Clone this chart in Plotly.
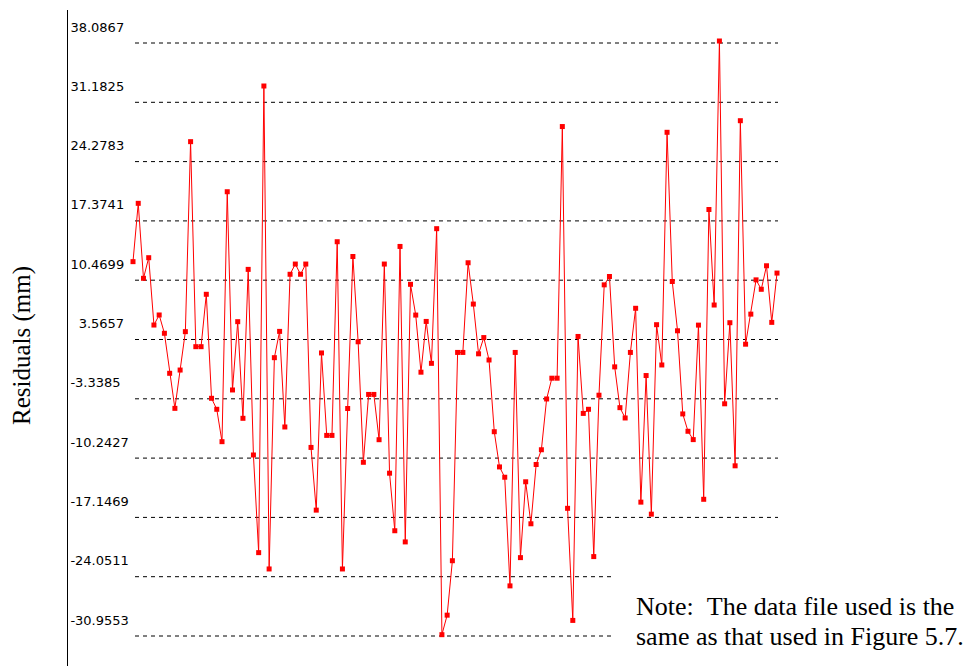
import plotly.graph_objects as go

# residual values (mm), in sample order
residuals = [
    12.63, 19.42, 10.69, 13.09, 5.25, 6.42, 4.29, -0.37, -4.45, 0.01,
    4.48, 26.6, 2.73, 2.73, 8.83, -3.28, -4.56, -8.33, 20.77, -2.31,
    5.64, -5.61, 11.73, -9.88, -21.25, 33.08,
    -23.15, 1.45, 4.51, -6.62, 11.16, 12.35, 11.16, 12.35, -9.0, -16.3,
    2.0, -7.6, -7.6, 14.95, -23.15, -4.47, 13.23, 3.3, -10.73, -2.83,
    -2.83, -8.1, 12.35, -12.0, -18.7, 14.4, -20.0, 9.99, 6.41, -0.24,
    5.67, 0.79, 16.47, -30.8,
    -28.53, -22.19, 2.06, 2.06, 12.5, 7.69, 1.9, 3.79, 1.18, -7.17,
    -11.27, -12.47, -25.12, 2.06, -21.83, -13.0, -17.89, -10.99, -9.27, -3.36,
    -0.94, -0.94, 28.36,
    -16.09, -29.14, 3.92, -5.04, -4.56, -21.71, -2.92, 9.93, 10.9, 0.38,
    -4.37, -5.57, 2.06, 7.2, -15.37, -0.63, -16.77, 5.29, 0.6, 27.69,
    10.32, 4.58, -5.1, -7.12, -8.09, 5.24, -15.04, 18.7, 7.58, 38.32,
    -3.92, 5.52, -11.14, 29.04, 3.02, 6.52, 10.51, 9.41, 12.15, 5.56, 11.3,
]
samples = list(range(len(residuals)))

tick_values = [38.0867, 31.1825, 24.2783, 17.3741, 10.4699, 3.5657,
               -3.3385, -10.2427, -17.1469, -24.0511, -30.9553]
tick_labels = ["38.0867", "31.1825", "24.2783", "17.3741", "10.4699",
               "\u00a0\u00a03.5657", "-3.3385", "-10.2427", "-17.1469",
               "-24.0511", "-30.9553"]
# grid lines that stop short to leave room for the note
short_grid = [-24.0511, -30.9553]

note_lines = ["Note:\u00a0\u00a0The data file used is the",
              "same as that used in Figure 5.7."]

fig = go.Figure()
fig.add_trace(go.Scatter(
    x=samples, y=residuals, mode="lines+markers",
    line=dict(color="#ff0000", width=1),
    marker=dict(symbol="square", size=5, color="#ff0000"),
    showlegend=False, hoverinfo="y",
))

# page body has an 8px margin: figure sits at screen (8, 8)
PLOT_W = 904
PLOT_H = 656
n = len(residuals)
px_per = 644 / (n - 1)
xmin = -(133 - 68) / px_per
xmax = (n - 1) + (972 - 777) / px_per

per_px = 6.9042 / 59.3
ytop = 38.0867 + 33 * per_px
ybot = -30.9553 - 30 * per_px

shapes = []
for v in tick_values:
    x1 = (612 - 68) / PLOT_W if v in short_grid else (778 - 68) / PLOT_W
    shapes.append(dict(type="line", xref="paper", yref="y",
                       x0=(135 - 68) / PLOT_W, x1=x1, y0=v, y1=v,
                       line=dict(color="black", width=1, dash="4px,4px"),
                       layer="below"))

annotations = [
    dict(text="Residuals (mm)", textangle=-90, xref="paper", yref="paper",
         x=(22 - 68) / PLOT_W, y=(666 - 346) / PLOT_H, xanchor="center", yanchor="middle",
         showarrow=False, font=dict(family="Liberation Serif", size=25, color="black")),
]
for i, line in enumerate(note_lines):
    annotations.append(dict(
        text=line, xref="paper", yref="paper",
        x=(634 - 68) / PLOT_W, y=(666 - (606 + 30 * i)) / PLOT_H,
        xanchor="left", yanchor="middle", align="left", showarrow=False,
        font=dict(family="Liberation Serif", size=26, color="black")))

fig.update_layout(
    width=964, height=658,
    margin=dict(l=60, r=0, t=2, b=0, autoexpand=False),
    paper_bgcolor="white", plot_bgcolor="white",
    shapes=shapes,
    xaxis=dict(range=[xmin, xmax], visible=False, showgrid=False,
               zeroline=False, automargin=False),
    yaxis=dict(range=[ybot, ytop], tickvals=tick_values, ticktext=tick_labels,
               showgrid=False, zeroline=False, showline=True, linecolor="black",
               linewidth=1, ticks="", ticklabelposition="inside",
               ticklabelstandoff=2, ticklabelshift=-16, automargin=False,
               tickfont=dict(family="DejaVu Sans", size=13, color="black")),
    annotations=annotations,
)

fig.write_html("out.html")
